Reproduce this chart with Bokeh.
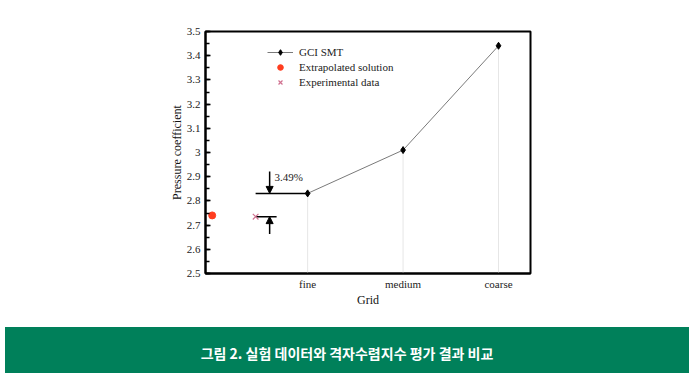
from bokeh.plotting import figure
from bokeh.models import (Range1d, FixedTicker, SingleIntervalTicker, CustomJSTickFormatter,
                          Arrow, NormalHead, Div, Legend)
from bokeh.layouts import column
from bokeh.core.properties import value
from bokeh.embed import file_html
from bokeh.resources import INLINE

# ---- data ----
grid_names = ["fine", "medium", "coarse"]
grid_x = [1, 2, 3]
gci_smt = [2.831, 3.010, 3.441]
extrap_x = [0.0]
extrap_y = [2.740]
exper_x = [0.455]
exper_y = [2.735]
diff_label = "3.49%"

# annotation placement (data units)
arrow_x = 0.602
arrow_top_start = 2.921
arrow_bot_start = 2.663
bar_left = 0.455
bar_right_exp = 0.675
label_x = 0.654
label_y = 2.899

FONT = "Liberation Serif"

p = figure(width=684, height=322, output_backend="svg", toolbar_location=None,
           x_range=Range1d(-0.07, 3.335), y_range=Range1d(2.5, 3.5),
           min_border_left=205, min_border_right=154, min_border_top=31, min_border_bottom=49)
p.background_fill_color = "white"
p.border_fill_color = "white"
p.outline_line_color = "black"
p.outline_line_width = 2
p.xgrid.visible = False
p.ygrid.visible = False

# drop lines
p.segment(x0=grid_x, y0=[2.5] * 3, x1=grid_x, y1=gci_smt, line_color="#e6e6e6", line_width=1)

# difference annotation
p.segment(x0=[bar_left, bar_left], y0=[gci_smt[0], exper_y[0]],
          x1=[grid_x[0], bar_right_exp], y1=[gci_smt[0], exper_y[0]],
          line_color="black", line_width=1.5)
for ys in (arrow_top_start, arrow_bot_start):
    ye = gci_smt[0] if ys > gci_smt[0] else exper_y[0]
    p.add_layout(Arrow(end=NormalHead(size=7, fill_color="black", line_color="black", line_width=1),
                       x_start=arrow_x, y_start=ys, x_end=arrow_x, y_end=ye,
                       line_color="black", line_width=1.5))
p.text(x=[label_x], y=[label_y], text=[diff_label], text_font=value(FONT),
       text_font_size="11px", text_baseline="middle", text_align="left", text_color="#222222")

# series
l1 = p.line(grid_x, gci_smt, line_color="#7a7a7a", line_width=1)
s1 = p.scatter(grid_x, gci_smt, marker="diamond", size=7, color="black")
s2 = p.scatter(extrap_x, extrap_y, marker="circle", size=7, color="#FF3D1F")
s3 = p.scatter(exper_x, exper_y, marker="x", size=8, line_color="#D0708F", line_width=1.2)

legend = Legend(items=[("GCI SMT", [l1, s1]), ("Extrapolated solution", [s2]),
                       ("Experimental data", [s3])],
                location=(62, 184), border_line_color=None, background_fill_alpha=0,
                label_text_font=FONT, label_text_font_size="11px", label_text_color="#222222",
                glyph_width=26, glyph_height=14, label_height=14, label_standoff=6,
                spacing=1, padding=0, margin=0)
p.add_layout(legend)

# axes
p.xaxis.ticker = FixedTicker(ticks=grid_x)
p.xaxis.major_label_overrides = {x: n for x, n in zip(grid_x, grid_names)}
p.xaxis.major_tick_line_color = None
p.xaxis.minor_tick_line_color = None
p.xaxis.major_tick_out = 0
p.xaxis.major_tick_in = 0
p.xaxis.minor_tick_out = 0
p.xaxis.minor_tick_in = 0
p.xaxis.axis_line_width = 2
p.xaxis.axis_label = "Grid"

p.yaxis.ticker = SingleIntervalTicker(interval=0.1, num_minor_ticks=2)
p.yaxis.formatter = CustomJSTickFormatter(code="return String(Math.round(tick*10)/10)")
p.yaxis.major_tick_in = 5
p.yaxis.major_tick_out = 0
p.yaxis.minor_tick_in = 4
p.yaxis.minor_tick_out = 0
p.yaxis.major_tick_line_width = 1.5
p.yaxis.minor_tick_line_width = 1.5
p.yaxis.axis_line_width = 2
p.yaxis.axis_label = "Pressure coefficient"

for ax in (p.xaxis[0], p.yaxis[0]):
    ax.major_label_text_font = FONT
    ax.major_label_text_font_size = "11px"
    ax.major_label_text_color = "#222222"
    ax.axis_label_text_font = FONT
    ax.axis_label_text_font_size = "12px"
    ax.axis_label_text_font_style = "normal"
    ax.axis_label_text_color = "#111111"
    ax.axis_line_color = "black"
p.xaxis.major_label_standoff = 4
p.xaxis.axis_label_standoff = 0
p.yaxis.major_label_standoff = 5
p.yaxis.axis_label_standoff = 0

caption = Div(text='<div style="width:684px;text-align:center;color:white;font-weight:bold;'
                   'font-family:\'Noto Sans CJK KR\';font-size:14px;line-height:20px;'
                   'padding-top:16px;">그림 2. 실험 데이터와 격자수렴지수 평가 결과 비교</div>',
              width=684, height=46,
              styles={"background-color": "#00805A", "overflow": "hidden"})

layout = column(p, caption, spacing=0)
open("out.html", "w").write(file_html(layout, INLINE))
